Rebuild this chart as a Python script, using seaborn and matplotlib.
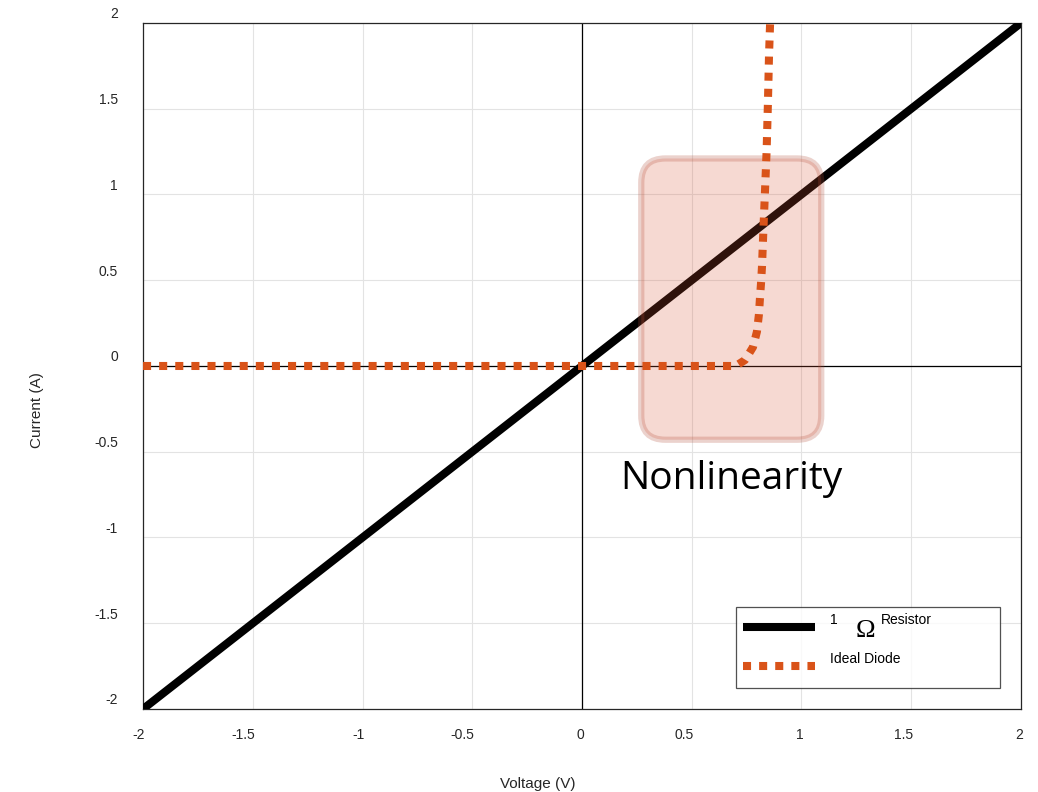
import matplotlib
matplotlib.use("Agg")
import matplotlib.pyplot as plt
import seaborn as sns
from matplotlib.patches import FancyBboxPatch
from matplotlib.transforms import ScaledTranslation

# data
resistor_v = [-2.0, 2.0]
resistor_i = [-2.0, 2.0]

diode_v = [-2.0, 0.70, 0.743, 0.779, 0.797, 0.806, 0.811, 0.816, 0.820,
           0.826, 0.835, 0.841, 0.847, 0.852, 0.857]
diode_i = [0.0, 0.0, 0.035, 0.11, 0.20, 0.30, 0.40, 0.49, 0.58,
           0.78, 1.06, 1.25, 1.53, 1.81, 2.0]

ticks = [-2, -1.5, -1, -0.5, 0, 0.5, 1, 1.5, 2]
tick_labels = ["-2", "-1.5", "-1", "-0.5", "0", "0.5", "1", "1.5", "2"]

# highlight box (data coords)
box_x0, box_x1 = 0.27, 1.09
box_y0, box_y1 = -0.43, 1.21

sns.set_theme(style="white")
plt.rcParams["font.family"] = ["Liberation Sans", "DejaVu Sans"]

text_col = "#262626"
orange = "#D95319"

fig = plt.figure(figsize=(10.38, 7.92), dpi=100)
ax = fig.add_axes([0.1378, 0.1048, 0.8458, 0.8662])

ax.set_xlim(-2, 2)
ax.set_ylim(-2, 2)
ax.set_xticks(ticks)
ax.set_yticks(ticks)
ax.set_xticklabels(tick_labels, ha="right")
ax.set_yticklabels(tick_labels)
ax.grid(True, color="#e3e3e3", linewidth=0.8)
ax.tick_params(direction="in", length=4, width=0.8, colors="#404040",
               labelcolor=text_col, labelsize=10)
ax.tick_params(axis="x", pad=14)
ax.tick_params(axis="y", pad=18)
for lab in ax.get_yticklabels():
    lab.set_transform(lab.get_transform() + ScaledTranslation(0, 0.1, fig.dpi_scale_trans))
for lab in ax.get_xticklabels():
    lab.set_transform(lab.get_transform() + ScaledTranslation(0.02, 0, fig.dpi_scale_trans))
for sp in ax.spines.values():
    sp.set_color("#262626")
    sp.set_linewidth(0.9)

ax.axhline(0, color="black", linewidth=0.9, zorder=1)
ax.axvline(0, color="black", linewidth=0.9, zorder=1)

sns.lineplot(x=resistor_v, y=resistor_i, ax=ax, color="black", linewidth=5.8,
             sort=False, estimator=None, label="1", zorder=3)
sns.lineplot(x=diode_v, y=diode_i, ax=ax, color=orange, linewidth=5.8,
             linestyle=(0, (1, 1)), sort=False, estimator=None,
             label="Ideal Diode", zorder=5)
for ln in ax.get_lines():
    ln.set_solid_capstyle("butt")
    ln.set_dash_capstyle("butt")

rx = 0.11
box = FancyBboxPatch((box_x0 + rx, box_y0 + rx * 1.28),
                     box_x1 - box_x0 - 2 * rx, box_y1 - box_y0 - 2 * rx * 1.28,
                     boxstyle="round,pad=%f,rounding_size=%f" % (rx, rx),
                     mutation_aspect=1.28,
                     facecolor=(0.85, 0.33, 0.20, 0.22),
                     edgecolor=(0.70, 0.30, 0.22, 0.25),
                     linewidth=4.5, zorder=4)
ax.add_patch(box)

ax.text(0.679, -0.72, "Nonlinearity", fontsize=28, family=["Open Sans", "DejaVu Sans"],
        color="black", ha="center", va="baseline", zorder=6)

ax.set_xlabel("Voltage (V)", fontsize=11, color=text_col)
ax.set_ylabel("Current (A)", fontsize=11, color=text_col)
ax.xaxis.set_label_coords(0.45, -0.099)
ax.yaxis.set_label_coords(-0.113, 0.436)

leg = ax.legend(loc="lower left", bbox_to_anchor=(0.675, 0.031, 0.301, 0.119),
                mode="expand", borderaxespad=0, frameon=True, fancybox=False,
                fontsize=10, handlelength=5.2, handletextpad=1.0,
                borderpad=1.0, labelspacing=1.8)
leg.get_frame().set_edgecolor("#262626")
leg.get_frame().set_linewidth(0.9)
leg.set_zorder(10)
for t in leg.get_texts():
    t.set_color("black")
    t.set_transform(t.get_transform() + ScaledTranslation(-0.06, 0.08, fig.dpi_scale_trans))
for h in leg.legend_handles:
    h.set_transform(h.get_transform() + ScaledTranslation(-0.07, 0, fig.dpi_scale_trans))

# the big serif omega and "Resistor" after the "1"
one = leg.get_texts()[0]
ax.annotate("\u03a9", xy=(0, 0.5), xycoords=one,
            xytext=(36, -11), textcoords="offset pixels", ha="center", va="center",
            fontsize=19, family=["Liberation Serif", "DejaVu Serif"],
            color="black", zorder=11, annotation_clip=False)
ax.annotate("Resistor", xy=(0, 0.5), xycoords=one,
            xytext=(51, 0), textcoords="offset pixels", ha="left", va="center",
            fontsize=10, color="black", zorder=11, annotation_clip=False)

fig.savefig("out.png", dpi=100)
